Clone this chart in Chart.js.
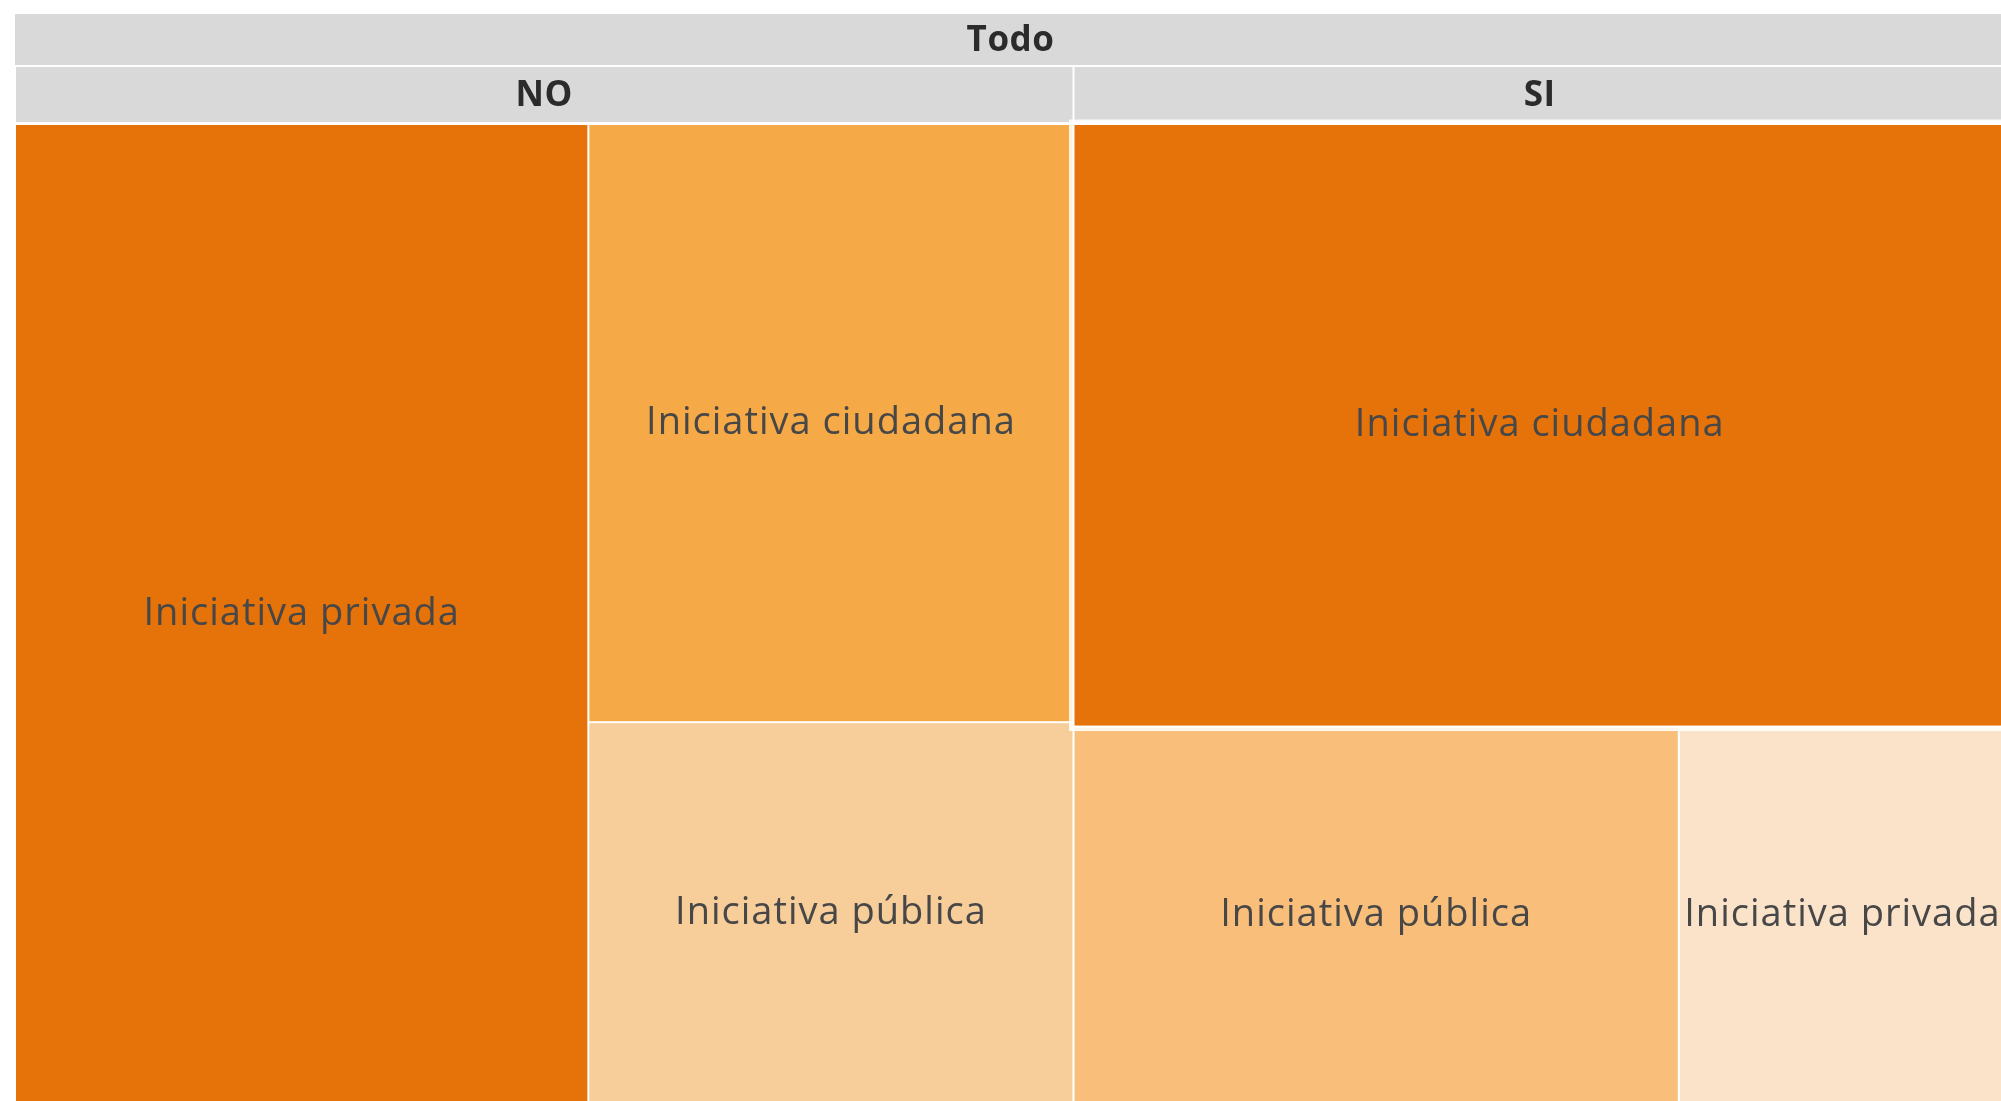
<!DOCTYPE html>
<html>
<head>
<meta charset="utf-8">
<script src="https://cdn.jsdelivr.net/npm/chart.js@4.4.1/dist/chart.umd.min.js"></script>
<style>
  html, body { margin: 0; padding: 0; background: #fff; overflow: hidden; }
  .box-body { position: relative; width: 2010px; height: 1110px; }
</style>
</head>
<body>
<div class="box-body"><canvas id="chart"></canvas></div>
<script>
// tree: root -> groups -> cells
const rootLabel = 'Todo';
const groups = ['NO', 'SI'];

const noLabels = ['Iniciativa privada', 'Iniciativa ciudadana', 'Iniciativa pública'];
const noValues = [45.5, 23.5, 15];

const siLabels = ['Iniciativa ciudadana', 'Iniciativa pública', 'Iniciativa privada'];
const siValues = [45.5, 18.5, 10];

// colours by cell (same order as the labels)
const noColors = ['#E6720A', '#F6A947', '#F7CD9A'];
const siColors = ['#E6720A', '#F8BE7A', '#FBE3CA'];

const groupCells = [
  { labels: noLabels, values: noValues, colors: noColors },
  { labels: siLabels, values: siValues, colors: siColors }
];

const sum = arr => arr.reduce((a, b) => a + b, 0);

function worst(row, side) {
  let s = sum(row), mx = Math.max(...row), mn = Math.min(...row);
  return Math.max(side * side * mx / (s * s), (s * s) / (side * side * mn));
}

// squarified layout, rect in pixel-proportional units
function squarify(values, rect) {
  let scale = rect.w * rect.h / sum(values);
  let areas = values.map(v => v * scale);
  let out = [];
  let r = Object.assign({}, rect);
  let i = 0;
  while (i < areas.length) {
    let side = Math.min(r.w, r.h);
    let row = [areas[i]];
    let j = i + 1;
    while (j < areas.length && worst(row.concat(areas[j]), side) <= worst(row, side)) {
      row.push(areas[j]);
      j++;
    }
    let s = sum(row);
    if (r.w >= r.h) {
      let cw = s / r.h, y = r.y;
      row.forEach(a => { let h = a / cw; out.push({ x: r.x, y: y, w: cw, h: h }); y += h; });
      r = { x: r.x + cw, y: r.y, w: r.w - cw, h: r.h };
    } else {
      let rh = s / r.w, x = r.x;
      row.forEach(a => { let w = a / rh; out.push({ x: x, y: r.y, w: w, h: rh }); x += w; });
      r = { x: r.x, y: r.y + rh, w: r.w, h: r.h - rh };
    }
    i = j;
  }
  return out;
}

const treemapPlugin = {
  id: 'treemap',
  afterDatasetsDraw(chart) {
    const ctx = chart.ctx;
    const xs = chart.scales.x, ys = chart.scales.y;
    const area = chart.chartArea;
    const AW = area.right - area.left, AH = area.bottom - area.top;

    // layout units are px offsets inside the area -> normalise -> through scales
    const px = u => xs.getPixelForValue(u / AW);
    const py = u => ys.getPixelForValue(u / AH);

    function fillBox(r, color, inset) {
      let x0 = px(r.x) + inset, x1 = px(r.x + r.w) - inset;
      let y0 = py(r.y) + inset, y1 = py(r.y + r.h) - inset;
      ctx.fillStyle = color;
      ctx.fillRect(x0, y0, x1 - x0, y1 - y0);
      return { x0, x1, y0, y1 };
    }

    function text(str, cx, cy, font, color, spacing) {
      ctx.save();
      ctx.font = font;
      ctx.fillStyle = color;
      ctx.textAlign = 'center';
      ctx.textBaseline = 'middle';
      if (spacing) ctx.letterSpacing = spacing;
      ctx.fillText(str, cx, cy);
      ctx.restore();
    }

    const headFont = 'bold 35px "Open Sans", sans-serif';
    const cellFont = '38px "Open Sans", sans-serif';

    // root header
    const rootHead = 51;
    let b = fillBox({ x: 0, y: 0, w: AW, h: rootHead }, '#D9D9D9', 0);
    text(rootLabel, (b.x0 + b.x1) / 2, (b.y0 + b.y1) / 2 + 2, headFont, '#2b2b2b', '0.5px');

    // groups
    const childRect = { x: 0, y: rootHead + 1, w: AW, h: AH - rootHead - 1 };
    const groupRects = squarify(groupCells.map(g => sum(g.values)), childRect);
    const groupHead = 56;
    let highlight = null;

    groupRects.forEach((gr, gi) => {
      let hb = fillBox({ x: gr.x, y: gr.y, w: gr.w, h: groupHead + 1 }, '#D9D9D9', 1);
      text(groups[gi], (hb.x0 + hb.x1) / 2, (hb.y0 + hb.y1) / 2 + 2, headFont, '#2b2b2b', '0.5px');

      const g = groupCells[gi];
      const cellsRect = { x: gr.x, y: gr.y + groupHead + 2, w: gr.w, h: gr.h - groupHead - 2 };
      const cells = squarify(g.values, cellsRect);
      cells.forEach((c, ci) => {
        let cb = fillBox(c, g.colors[ci], 1);
        text(g.labels[ci], (cb.x0 + cb.x1) / 2, (cb.y0 + cb.y1) / 2, cellFont, '#474747', '1px');
        if (gi === 1 && ci === 0) highlight = cb;
      });
    });

    // hover-like outline on the SI top cell
    if (highlight) {
      ctx.save();
      ctx.strokeStyle = 'rgba(255,255,255,0.85)';
      ctx.lineWidth = 5;
      ctx.strokeRect(highlight.x0 - 3, highlight.y0 - 3, highlight.x1 - highlight.x0 + 6, highlight.y1 - highlight.y0 + 6);
      ctx.restore();
    }
  }
};

new Chart(document.getElementById('chart'), {
  type: 'scatter',
  data: { datasets: [] },
  options: {
    responsive: true,
    maintainAspectRatio: false,
    animation: false,
    layout: { padding: { left: 15, right: 4, top: 14, bottom: 6 } },
    scales: {
      x: { type: 'linear', min: 0, max: 1, display: false },
      y: { type: 'linear', min: 0, max: 1, reverse: true, display: false }
    },
    plugins: {
      legend: { display: false },
      tooltip: { enabled: false }
    }
  },
  plugins: [treemapPlugin]
});
</script>
</body>
</html>
